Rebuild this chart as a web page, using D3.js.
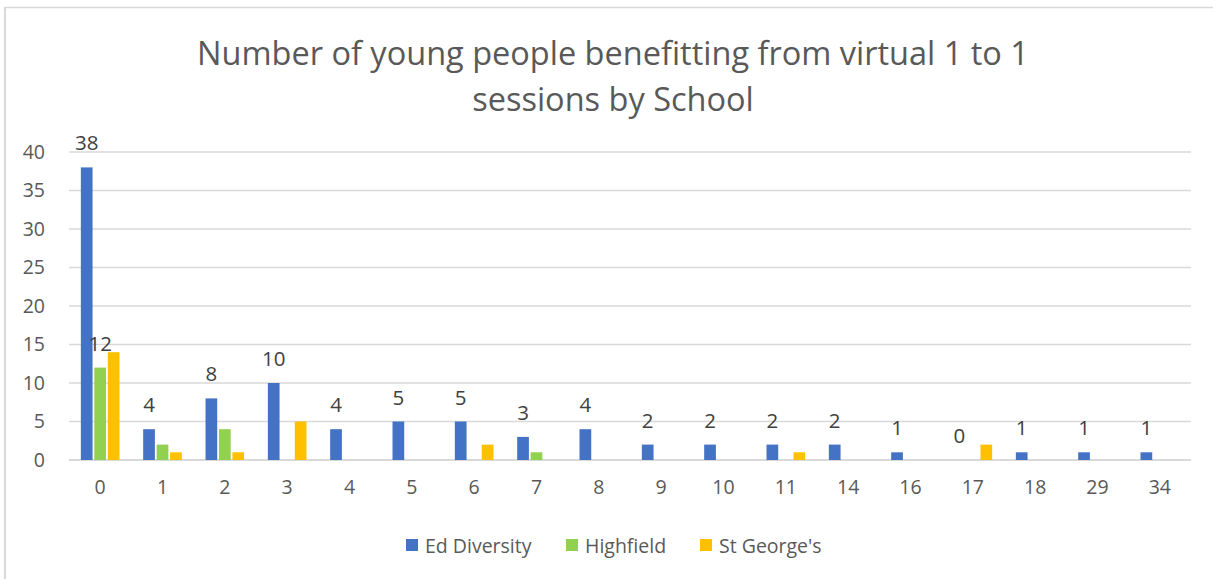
<!DOCTYPE html>
<html>
<head>
<meta charset="utf-8">
<script src="https://cdn.jsdelivr.net/npm/d3@7"></script>
<style>
  body { margin: 0; background: #fff; }
  svg text { font-family: "Open Sans", "Noto Sans", sans-serif; }
</style>
</head>
<body>
<div id="chart"></div>
<script>
var categories = ["0","1","2","3","4","5","6","7","8","9","10","11","14","16","17","18","29","34"];
var seriesNames = ["Ed Diversity", "Highfield", "St George's"];
var edDiversity = [38,4,8,10,4,5,5,3,4,2,2,2,2,1,0,1,1,1];
var highfield   = [12,2,4,0,0,0,0,1,0,0,0,0,0,0,0,0,0,0];
var stGeorges   = [14,1,1,5,0,0,2,0,0,0,0,1,0,0,2,0,0,0];
var yTicks = [0,5,10,15,20,25,30,35,40];
var titleLines = ["Number of young people benefitting from virtual 1 to 1", "sessions by School"];

var colors = ["#4472C4", "#92D050", "#FFC000"];
var values = [edDiversity, highfield, stGeorges];

var width = 1213, height = 579;
var margin = {top: 152, right: 22, bottom: 119, left: 69};

var svg = d3.select("#chart")
	.append("svg")
	.attr("width", width)
	.attr("height", height);

// chart frame (top + left edge only visible)
svg.append("line").attr("x1", 5).attr("x2", width).attr("y1", 7.5).attr("y2", 7.5)
	.attr("stroke", "#d9d9d9").attr("stroke-width", 1.5);
svg.append("line").attr("x1", 5).attr("x2", 5).attr("y1", 7).attr("y2", height)
	.attr("stroke", "#d9d9d9").attr("stroke-width", 2);

// title
svg.append("g").selectAll("text")
	.data(titleLines)
	.enter()
	.append("text")
	.attr("x", 613)
	.attr("y", function(d, i){ return 52 + i * 46 })
	.attr("text-anchor", "middle")
	.attr("dominant-baseline", "central")
	.attr("fill", "#595959")
	.style("font-size", "32.5px")
	.text(function(d){ return d });

var x_scale = d3.scaleBand()
	.domain(categories)
	.range([margin.left, width - margin.right])
	.padding(0);

var x_inner = d3.scaleBand()
	.domain(seriesNames)
	.range([x_scale.bandwidth() * 0.19, x_scale.bandwidth() * 0.81])
	.paddingInner(0.13);

var y_scale = d3.scaleLinear()
	.domain([0, 40])
	.range([height - margin.bottom, margin.top]);

// gridlines
svg.append("g").selectAll("line")
	.data(yTicks)
	.enter()
	.append("line")
	.attr("x1", margin.left)
	.attr("x2", width - margin.right)
	.attr("y1", function(d){ return y_scale(d) })
	.attr("y2", function(d){ return y_scale(d) })
	.attr("stroke", "#d9d9d9")
	.attr("stroke-width", function(d){ return d == 0 ? 2 : 1.5 });

// y axis labels
var yAxis = d3.axisLeft(y_scale).tickValues(yTicks).tickSize(0).tickPadding(0);
var gy = svg.append("g").attr("transform", "translate(45,0)").call(yAxis);
gy.select(".domain").remove();
gy.selectAll("text").attr("fill", "#595959").style("font-size", "19.5px");

// x axis labels
var xAxis = d3.axisBottom(x_scale).tickSize(0).tickPadding(0);
var gx = svg.append("g").attr("transform", "translate(0," + 480 + ")").call(xAxis);
gx.select(".domain").remove();
gx.selectAll("text").attr("fill", "#595959").style("font-size", "19.5px");

// bars
var groups = svg.append("g").selectAll("g")
	.data(seriesNames)
	.enter()
	.append("g")
	.attr("fill", function(d, i){ return colors[i] });

groups.selectAll("rect")
	.data(function(s, si){
		return categories.map(function(c, ci){ return {cat: c, series: s, value: values[si][ci]} })
	})
	.enter()
	.append("rect")
	.attr("x", function(d){ return x_scale(d.cat) + x_inner(d.series) })
	.attr("width", x_inner.bandwidth())
	.attr("y", function(d){ return y_scale(d.value) })
	.attr("height", function(d){ return y_scale(0) - y_scale(d.value) });

// data labels: every Ed Diversity value, plus Highfield at 0
var labels = categories.map(function(c, ci){ return {cat: c, series: seriesNames[0], value: edDiversity[ci]} });
labels.push({cat: categories[0], series: seriesNames[1], value: highfield[0]});

svg.append("g").selectAll("text")
	.data(labels)
	.enter()
	.append("text")
	.attr("x", function(d){ return x_scale(d.cat) + x_inner(d.series) + x_inner.bandwidth() / 2 })
	.attr("y", function(d){ return y_scale(d.value) - 25 })
	.attr("text-anchor", "middle")
	.attr("dominant-baseline", "central")
	.attr("fill", "#404040")
	.style("font-size", "20.5px")
	.text(function(d){ return d.value });

// legend
var legendX = [406, 566, 700];
var legend = svg.append("g").selectAll("g")
	.data(seriesNames)
	.enter()
	.append("g")
	.attr("transform", function(d, i){ return "translate(" + legendX[i] + ",545)" });
legend.append("rect")
	.attr("x", 0).attr("y", -6)
	.attr("width", 12).attr("height", 12)
	.attr("fill", function(d, i){ return colors[i] });
legend.append("text")
	.attr("x", 19)
	.attr("y", 0)
	.attr("dominant-baseline", "central")
	.attr("fill", "#595959")
	.style("font-size", "19.5px")
	.text(function(d){ return d });
</script>
</body>
</html>
